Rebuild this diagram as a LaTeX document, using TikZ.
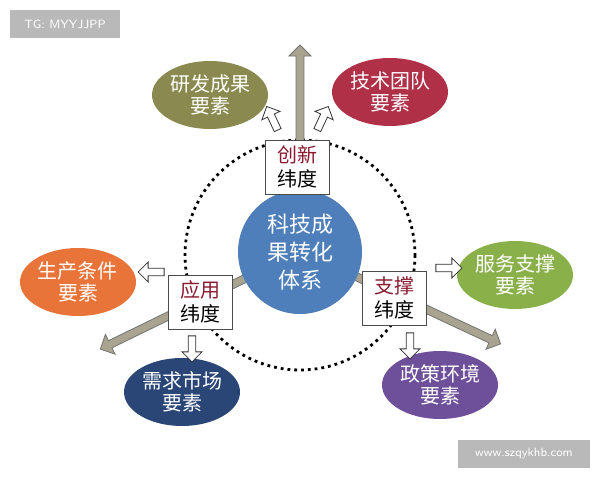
\documentclass[tikz,border=0pt]{standalone}
\usepackage{fontspec}
\newfontfamily\cjk{Noto Sans CJK SC}
\usetikzlibrary{shapes.arrows,shapes.geometric}
\definecolor{colive}{HTML}{8A8A50}
\definecolor{ccrim}{HTML}{B03048}
\definecolor{corange}{HTML}{E8743A}
\definecolor{cgreen}{HTML}{8AB04A}
\definecolor{cnavy}{HTML}{2A4676}
\definecolor{cpurple}{HTML}{6E4F9A}
\definecolor{cblue}{HTML}{4F7FBA}
\definecolor{carrow}{HTML}{A8A490}
\definecolor{cred}{HTML}{8A1A30}
\begin{document}
\begin{tikzpicture}[x=0.5pt,y=-0.5pt,
  elem/.style={ellipse,minimum width=58pt,minimum height=34pt,text=white,font=\cjk\fontsize{10}{11}\selectfont,align=center,inner sep=0pt},
  dim/.style={draw=black!70,fill=white,minimum width=32pt,minimum height=27pt,font=\cjk\fontsize{10}{12}\selectfont,align=center,inner sep=1pt},
  bigarrow/.style={single arrow,draw=black!55,fill=carrow,minimum height=#1,minimum width=11pt,single arrow head extend=3pt,inner sep=1.5pt},
  hollow/.style={single arrow,draw=black!80,fill=white,minimum height=13pt,minimum width=10pt,single arrow head extend=2pt,inner sep=1pt},
  tag/.style={fill=gray!55,text=white,font=\sffamily\fontsize{6}{7}\selectfont,inner sep=0pt}]
\useasboundingbox (0,0) rectangle (600,480);
\fill[white] (0,0) rectangle (600,480);
\node[tag,minimum width=55pt,minimum height=14pt] (tg) at (65,24) {TG: MYYJJPP};
\node[tag,minimum width=66pt,minimum height=14pt] (www) at (524,454) {www.szqykhb.com};
% dotted circle
\draw[dotted,line width=1.4pt] (300,255) circle[radius=115];
% big arrows
\node[bigarrow=72pt,rotate=90] (aup) at (300,119) {};
\node[bigarrow=110pt,rotate=206] (aleft) at (201,300) {};
\node[bigarrow=109pt,rotate=-25] (aright) at (400,297) {};
% centre
\node[circle,fill=cblue,minimum size=62pt,text=white,font=\cjk\fontsize{11}{14}\selectfont,align=center] (core) at (300,252) {科技成\\果转化\\体系};
% dimension boxes
\node[dim] (cx) at (297,167) {\textcolor{cred}{创新}\\纬度};
\node[dim] (yy) at (200,302) {\textcolor{cred}{应用}\\纬度};
\node[dim] (zc) at (394,298) {\textcolor{cred}{支撑}\\纬度};
% elements
\node[elem,fill=colive] (yf) at (210,95) {研发成果\\要素};
\node[elem,fill=ccrim] (js) at (390,92) {技术团队\\要素};
\node[elem,fill=corange] (sc) at (78,282) {生产条件\\要素};
\node[elem,fill=cgreen] (fw) at (515,275) {服务支撑\\要素};
\node[elem,fill=cnavy] (xq) at (182,392) {需求市场\\要素};
\node[elem,fill=cpurple] (zcy) at (440,385) {政策环境\\要素};
% hollow arrows
\node[hollow,rotate=115] (h1) at (273,120) {};
\node[hollow,rotate=65] (h2) at (322,120) {};
\node[hollow,rotate=180] (h3) at (153,272) {};
\node[hollow,rotate=0] (h4) at (447,268) {};
\node[hollow,rotate=-90] (h5) at (192,347) {};
\node[hollow,rotate=-90] (h6) at (410,344) {};
\end{tikzpicture}
\end{document}
